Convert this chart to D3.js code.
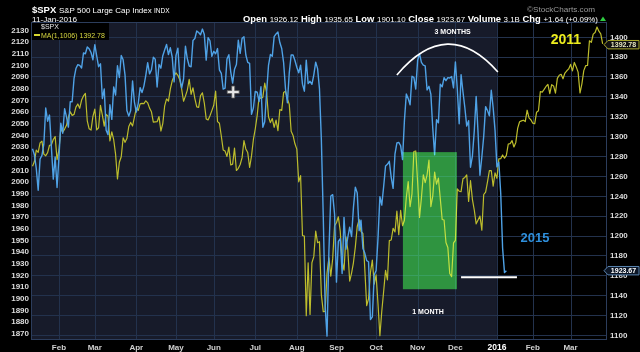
<!DOCTYPE html>
<html><head><meta charset="utf-8">
<script src="https://cdn.jsdelivr.net/npm/d3@7/dist/d3.min.js"></script>
<style>
html,body{margin:0;padding:0;background:#000;}
svg{display:block;font-family:"Liberation Sans",Arial,sans-serif;}
</style></head>
<body>
<svg id="c" width="640" height="352"></svg>
<script>
// ---- DATA ----
// $SPX daily closes, 12-Jan-2015 .. 11-Jan-2016 (left axis)
const spx2015 = [
2028.26,2023.03,2011.27,1992.67,2019.42,2022.55,2032.12,2063.15,2051.82,2057.09,2029.55,2002.16,2021.25,1994.99,
2020.85,2050.03,2041.51,2062.52,2055.47,2046.74,2068.59,2068.53,2088.48,2096.99,2100.34,2099.68,2097.45,2110.30,2109.66,2115.48,2113.86,2110.74,2104.50,
2117.39,2107.78,2098.53,2101.04,2071.26,2079.43,2044.16,2040.24,2065.95,2053.40,2081.19,2074.28,2099.50,2089.27,2108.10,2104.42,2091.50,2061.05,2056.15,2061.02,2086.24,2067.89,
2059.69,2066.96,2080.62,2076.33,2081.90,2091.18,2102.06,2092.43,2095.84,2106.63,2104.99,2081.18,2100.40,2097.29,2107.96,2112.93,2117.69,2108.92,2114.76,2106.85,2085.51,
2108.29,2114.49,2089.46,2080.15,2088.00,2116.10,2105.33,2099.12,2098.48,2121.10,2122.73,2129.20,2127.83,2125.85,2130.82,2126.06,2104.20,2123.48,2120.79,2107.39,
2111.73,2109.60,2114.07,2095.84,2092.83,2079.28,2080.15,2105.20,2108.86,2094.11,2084.43,2096.29,2100.44,2121.24,2109.99,2122.85,2124.20,2108.58,2102.31,2101.49,2057.64,2063.11,
2077.42,2076.78,2068.76,2081.34,2046.68,2051.31,2076.62,2099.60,2108.95,2107.40,2124.29,2126.64,2128.28,2119.21,2114.15,2102.15,2079.65,2067.64,2093.25,2108.57,2108.63,2103.84,
2098.04,2093.32,2099.84,2083.56,2077.57,2104.18,2084.07,2086.05,2083.39,2091.54,2102.44,2096.92,2079.61,2035.73,1970.89,1893.21,1867.61,1940.51,1987.66,1988.87,1972.18,
1913.85,1948.86,1951.13,1921.22,1969.41,1942.04,1952.29,1961.05,1953.03,1978.09,1995.31,1990.20,1958.03,1966.97,1942.74,1938.76,1932.24,1931.34,1881.77,1884.09,1920.03,
1923.82,1951.36,1987.05,1979.92,1995.83,2013.43,2014.89,2017.46,2003.69,1994.24,2023.86,2033.11,2033.66,2030.77,2018.94,2052.51,2075.15,2071.18,2065.89,2090.35,2089.41,2079.36,
2104.05,2109.79,2102.31,2099.93,2099.20,2078.58,2081.72,2075.00,2045.97,2023.04,2053.19,2050.44,2083.58,2081.24,2089.17,2086.59,2089.14,2088.87,2090.11,2080.41,
2102.63,2079.51,2049.62,2091.69,2077.07,2063.59,2047.62,2052.23,2012.37,2021.94,2043.41,2073.07,2041.89,2005.55,2021.15,2038.97,2064.29,2060.99,2056.50,2078.36,2063.36,2043.94,
2012.66,2016.71,1990.26,1943.09,1922.03,1923.67];

// MA(1,1006): the same index 1006 bars earlier (2011 - Mar 2012), right axis
const ma2011 = [
1269.75,1274.48,1285.96,1283.76,1293.24,1295.02,1281.92,1280.26,1283.35,1290.84,1291.18,1296.63,1299.54,1276.34,1286.12,
1307.59,1304.03,1307.10,1310.87,1319.05,1324.57,1320.88,1321.87,1329.15,1332.32,1328.01,1336.32,1340.43,1343.01,1315.44,1307.40,1306.10,1319.88,1327.22,
1306.33,1308.44,1330.97,1321.15,1310.13,1321.82,1320.02,1295.11,1304.28,1296.39,1281.87,1256.88,1273.72,1279.21,1298.38,1293.77,1297.54,1309.66,1313.80,1310.19,1319.44,1328.26,1325.83,
1332.41,1332.87,1332.63,1335.54,1333.51,1328.17,1324.46,1314.16,1314.41,1314.52,1319.68,1305.14,1312.62,1330.36,1337.38,1335.25,1347.24,1355.66,1360.48,1363.61,
1361.22,1356.62,1347.32,1335.10,1340.20,1346.29,1357.16,1342.08,1348.65,1337.77,1329.47,1328.98,1340.68,1343.60,1333.27,1317.37,1316.28,1320.47,1325.69,1331.10,1345.20,
1314.55,1312.94,1300.16,1286.17,1284.94,1279.56,1289.00,1270.98,1271.83,1287.87,1265.42,1267.64,1271.50,1278.36,1295.52,1287.14,1283.50,1268.45,1280.10,1296.67,1307.41,1320.64,
1339.67,1337.88,1339.22,1353.22,1343.80,1319.49,1313.64,1317.72,1308.87,1316.14,1305.44,1326.73,1325.84,1343.80,1345.02,1337.43,1331.94,1304.89,1300.67,1292.28,
1286.94,1254.05,1260.34,1200.07,1199.38,1119.46,1172.53,1120.76,1172.64,1178.81,1204.49,1192.76,1193.89,1140.65,1123.53,1123.82,1162.35,1177.60,1159.27,1176.80,1210.08,1212.92,1218.89,
1204.42,1173.97,1165.24,1198.62,1185.90,1154.23,1162.27,1172.87,1188.68,1209.11,1216.01,1204.09,1202.09,1166.76,1129.56,1136.43,1162.95,1175.38,1151.06,1160.40,1131.42,
1099.23,1123.95,1144.03,1164.97,1155.46,1194.89,1195.54,1207.25,1203.66,1224.58,1200.86,1225.38,1209.88,1215.39,1238.25,1254.19,1229.05,1242.00,1284.59,1285.09,1253.30,
1218.28,1237.90,1261.15,1253.23,1261.12,1275.92,1229.10,1239.70,1263.85,1251.78,1257.81,1236.91,1216.13,1215.65,1192.98,1188.04,1161.79,1158.67,1192.55,1195.19,1246.96,
1244.58,1244.28,1257.08,1258.47,1261.01,1234.35,1255.19,1236.47,1225.73,1211.82,1215.75,1219.66,1205.35,1241.30,1243.72,1254.00,1265.33,1265.43,1249.64,1263.02,1257.60,
1277.06,1277.30,1281.06,1277.81,1280.70,1292.08,1292.48,1295.50,1289.09,1293.67,1308.04,1314.50,1315.38,1316.00,1314.65,1326.06,1318.43,1316.33,1313.01,1312.41,
1324.09,1325.54,1344.90,1344.33,1347.05,1349.96,1351.95,1342.64,1351.77,1350.50,1343.23,1358.04,1361.23,1362.21,1357.66,1363.46,1365.74,1367.59,1372.18,1365.68,
1374.09,1369.63,1364.33,1343.36,1352.63,1365.91,1370.87,1371.09,1395.95,1394.28,1402.60,1404.17,1409.75,1405.52,1402.89,1392.78];

// month boundaries (trading-day index) and labels
const monthIdx = [14,33,55,76,96,118,140,161,182,204,224,246,265,285];
const monthLabels = ["Feb","Mar","Apr","May","Jun","Jul","Aug","Sep","Oct","Nov","Dec","2016","Feb","Mar"];
const leftTicks = [1870,1880,1890,1900,1910,1920,1930,1940,1950,1960,1970,1980,1990,2000,2010,2020,2030,2040,2050,2060,2070,2080,2090,2100,2110,2120,2130];
const rightTicks = [1100,1120,1140,1160,1180,1200,1220,1240,1260,1280,1300,1320,1340,1360,1380,1400];
const lastSpx = 1923.67, lastMa = 1392.78;

// ---- CHART ----
const svg = d3.select("#c");
const P = {l:31, r:607, t:22, b:340};
const x = d3.scaleLinear().domain([-0.8, 304.3]).range([P.l, P.r]);
const yL = d3.scaleLinear().domain([1870, 2130]).range([333.3, 30]);
const yR = d3.scaleLinear().domain([1100, 1400]).range([335, 36.7]);

svg.append("rect").attr("width",640).attr("height",352).attr("fill","#000");
// plot backgrounds
svg.append("rect").attr("x",P.l).attr("y",P.t).attr("width",P.r-P.l).attr("height",P.b-P.t).attr("fill","#000");
svg.append("rect").attr("x",P.l).attr("y",P.t).attr("width",x(246)-P.l).attr("height",P.b-P.t).attr("fill","#171b2a");

// gridlines
const grid = svg.append("g").attr("stroke","#23324d").attr("stroke-width",1);
rightTicks.forEach(t=>grid.append("line").attr("x1",P.l).attr("x2",P.r).attr("y1",Math.round(yR(t))+0.5).attr("y2",Math.round(yR(t))+0.5));
monthIdx.forEach(t=>grid.append("line").attr("y1",P.t).attr("y2",P.b).attr("x1",Math.round(x(t))+0.5).attr("x2",Math.round(x(t))+0.5));
svg.append("rect").attr("x",P.l+0.5).attr("y",P.t+0.5).attr("width",P.r-P.l-1).attr("height",P.b-P.t-1)
  .attr("fill","none").attr("stroke","#2c3d5c");

// lines
const lineL = d3.line().x((d,i)=>x(i)).y(d=>yL(d));
const lineR = d3.line().x((d,i)=>x(i)).y(d=>yR(d));
svg.append("path").attr("d",lineR(ma2011)).attr("fill","none").attr("stroke","#bdbd2c").attr("stroke-width",1.2).attr("stroke-linejoin","round");
svg.append("path").attr("d",lineL(spx2015)).attr("fill","none").attr("stroke","#4fa2e6").attr("stroke-width",1.4).attr("stroke-linejoin","round");

// green 1-month box (screen blend)
svg.append("rect").attr("x",x(196.2)).attr("y",yL(2025.3)).attr("width",x(224.8)-x(196.2)).attr("height",yL(1907.8)-yL(2025.3))
  .attr("fill","rgb(26,135,26)").style("mix-blend-mode","screen");

// annotations
svg.append("path").attr("d",`M${x(193)},${yL(2091.4)} Q${x(219.8)},${yL(2143)} ${x(246.5)},${yL(2094)}`)
  .attr("fill","none").attr("stroke","#fff").attr("stroke-width",1.6);
svg.append("line").attr("x1",x(227)).attr("x2",x(256.6)).attr("y1",yL(1918)).attr("y2",yL(1918)).attr("stroke","#fff").attr("stroke-width",2);
svg.append("text").attr("x",x(222.5)).attr("y",yL(2126.6)).attr("text-anchor","middle").attr("fill","#fff")
  .attr("font-size",7).attr("font-weight","bold").text("3 MONTHS");
svg.append("text").attr("x",x(209.5)).attr("y",yL(1886.5)).attr("text-anchor","middle").attr("fill","#fff")
  .attr("font-size",7).attr("font-weight","bold").text("1 MONTH");
svg.append("text").attr("x",x(266.2)).attr("y",yL(1948)).attr("text-anchor","middle").attr("fill","#2e8fdc")
  .attr("font-size",13).attr("font-weight","bold").text("2015");
svg.append("text").attr("x",x(282.5)).attr("y",yR(1393)).attr("text-anchor","middle").attr("fill","#ecec1e")
  .attr("font-size",14).attr("font-weight","bold").text("2011");

// crosshair cursor
const cx = x(106.3), cy = yL(2076.8);
const cross = `M${cx-1.5},${cy-6}h3v4.5h4.5v3h-4.5v4.5h-3v-4.5h-4.5v-3h4.5z`;
svg.append("path").attr("d",cross).attr("fill","#e6e6e6").attr("stroke","#555").attr("stroke-width",0.8);

// legend
svg.append("rect").attr("x",P.l+1).attr("y",P.t+1).attr("width",77).attr("height",17).attr("fill","#000");
svg.append("text").attr("x",41).attr("y",29).attr("fill","#e8e8e8").attr("font-size",7).text("$SPX");
svg.append("line").attr("x1",34).attr("x2",40).attr("y1",35).attr("y2",35).attr("stroke","#d8d830").attr("stroke-width",2);
svg.append("text").attr("x",41).attr("y",37.5).attr("fill","#d8d840").attr("font-size",7).text(`MA(1,1006) ${lastMa}`);

// axes labels
const ax = svg.append("g").attr("font-size",8).attr("fill","#dcdcdc").attr("font-weight","bold");
leftTicks.forEach(t=>ax.append("text").attr("x",29).attr("y",yL(t)).attr("dy","0.35em").attr("text-anchor","end").text(t));
rightTicks.forEach(t=>ax.append("text").attr("x",610).attr("y",yR(t)).attr("dy","0.35em").text(t));
monthIdx.forEach((t,i)=>ax.append("text").attr("x",x(t)).attr("y",349.5).attr("text-anchor","middle")
  .attr("fill", monthLabels[i]==="2016" ? "#fff":"#d0d0d0").attr("font-size", monthLabels[i]==="2016"?8.5:8).text(monthLabels[i]));

// value tags
function tag(cyv, txt, stroke, fill, tcol){
  const g = svg.append("g");
  g.append("path").attr("d",`M604,${cyv} L608,${cyv-4.2} L639,${cyv-4.2} L639,${cyv+4.2} L608,${cyv+4.2} Z`)
    .attr("fill",fill).attr("stroke",stroke).attr("stroke-width",1);
  g.append("text").attr("x",623.5).attr("y",cyv).attr("dy","0.35em").attr("text-anchor","middle").attr("font-size",7)
    .attr("font-weight","bold").attr("fill",tcol).text(txt);
}
tag(yR(lastMa)+0.8, lastMa.toFixed(2), "#a9a92c", "#111", "#e8e8c0");
tag(yL(lastSpx), lastSpx.toFixed(2), "#5a84b0", "#0c1626", "#ffffff");

// header
const h1 = svg.append("text").attr("x",32).attr("y",12.5).attr("fill","#fff");
h1.append("tspan").attr("font-size",9.5).attr("font-weight","bold").text("$SPX ");
h1.append("tspan").attr("font-size",8).text("S&P 500 Large Cap Index ");
h1.append("tspan").attr("font-size",6.5).text("INDX");
svg.append("text").attr("x",32).attr("y",22).attr("fill","#fff").attr("font-size",8).attr("textLength",45).attr("lengthAdjust","spacingAndGlyphs").text("11-Jan-2016");
const h2 = svg.append("text").attr("x",243).attr("y",22).attr("fill","#fff").attr("textLength",355).attr("lengthAdjust","spacingAndGlyphs");
[["Open","1926.12"],["High","1935.65"],["Low","1901.10"],["Close","1923.67"],["Volume","3.1B"],["Chg","+1.64 (+0.09%)"]].forEach((p,i)=>{
  h2.append("tspan").attr("font-size",9.5).attr("font-weight","bold").text((i?" ":"")+p[0]+" ");
  h2.append("tspan").attr("font-size",8).text(p[1]);
});
svg.append("path").attr("d","M600,21 L603,16.5 L606,21 Z").attr("fill","#2ecc40");
svg.append("text").attr("x",595).attr("y",12).attr("text-anchor","end").attr("fill","#9a9a9a").attr("font-size",8)
  .attr("textLength",68).attr("lengthAdjust","spacingAndGlyphs").text("©StockCharts.com");
</script>
</body></html>
